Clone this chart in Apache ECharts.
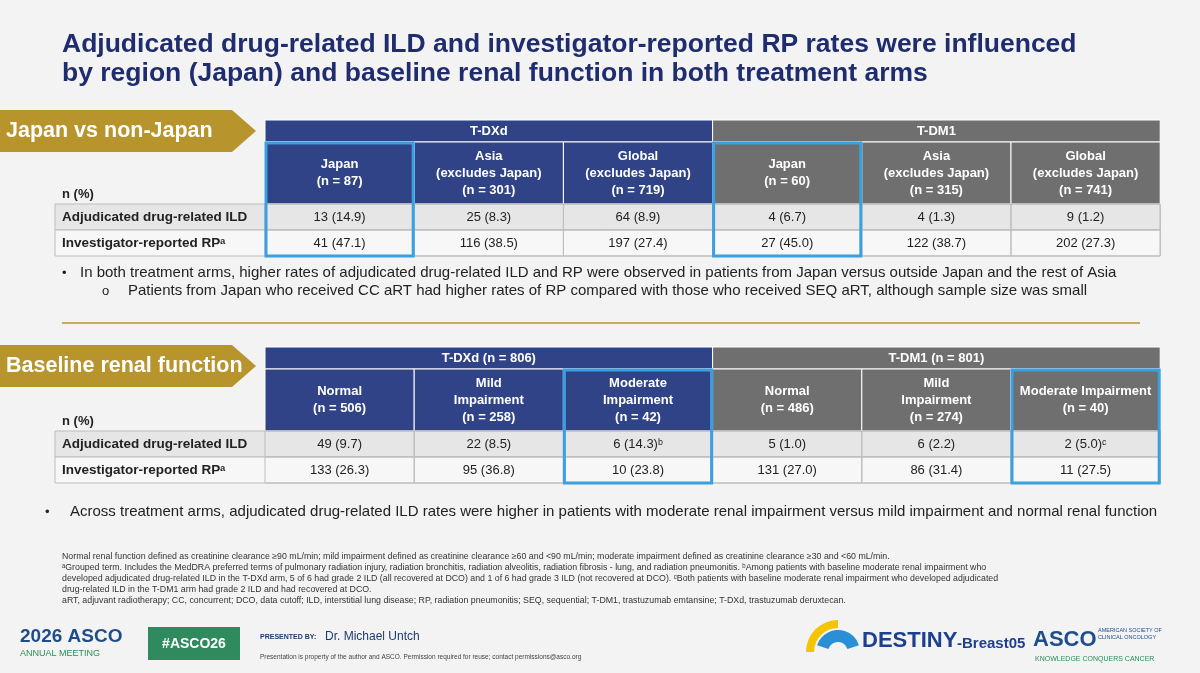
<!DOCTYPE html>
<html>
<head>
<meta charset="utf-8">
<script src="https://cdn.jsdelivr.net/npm/echarts@6/dist/echarts.min.js"></script>
<style>html,body{margin:0;padding:0;background:#f3f3f3}#main{width:1200px;height:673px}</style>
</head>
<body>
<div id="main"></div>
<script>
// table 1: region
const regionCols = ['Japan\n(n = 87)', 'Asia\n(excludes Japan)\n(n = 301)', 'Global\n(excludes Japan)\n(n = 719)',
  'Japan\n(n = 60)', 'Asia\n(excludes Japan)\n(n = 315)', 'Global\n(excludes Japan)\n(n = 741)']
const regionIld = ['13 (14.9)', '25 (8.3)', '64 (8.9)', '4 (6.7)', '4 (1.3)', '9 (1.2)']
const regionRp = ['41 (47.1)', '116 (38.5)', '197 (27.4)', '27 (45.0)', '122 (38.7)', '202 (27.3)']
// table 2: renal
const renalCols = ['Normal\n(n = 506)', 'Mild\nImpairment\n(n = 258)', 'Moderate\nImpairment\n(n = 42)',
  'Normal\n(n = 486)', 'Mild\nImpairment\n(n = 274)', 'Moderate Impairment\n(n = 40)']
const renalIld = ['49 (9.7)', '22 (8.5)', '6 (14.3)ᵇ', '5 (1.0)', '6 (2.2)', '2 (5.0)ᶜ']
const renalRp = ['133 (26.3)', '95 (36.8)', '10 (23.8)', '131 (27.0)', '86 (31.4)', '11 (27.5)']
const rowLabels = ['Adjudicated drug-related ILD', 'Investigator-reported RPᵃ']

const NAVY = '#2f4386', GREY = '#6f6f6f', BLUE = '#3aa0e0', GOLD = '#b8952c', TITLE = '#1f2d6e'
const FONT = 'Arial, "Liberation Sans", sans-serif'
const g = []

function rect(x, y, w, h, fill, stroke, lw) {
  g.push({ type: 'rect', shape: { x, y, width: w, height: h }, style: { fill: fill || 'none', stroke: stroke || null, lineWidth: lw || 0 } })
}
function text(x, y, t, o) {
  o = o || {}
  g.push({ type: 'text', x, y, style: { text: t, fill: o.fill || '#222', font: (o.weight || 'normal') + ' ' + (o.size || 13) + 'px ' + FONT,
    align: o.align || 'left', verticalAlign: o.va || 'middle', lineHeight: o.lh || (o.size || 13) + 3 } })
}

function banner(y, label) {
  g.push({ type: 'polygon', shape: { points: [[0, y], [232, y], [256, y + 21], [232, y + 42], [0, y + 42]] }, style: { fill: GOLD } })
  text(6, y + 21, label, { fill: '#fff', size: 21.5, weight: 'bold' })
}

function table(top, heads, cols, ild, rp, hi) {
  const x0 = 55, lx = 265, cw = 149.2, hh = 22, sh = 62, rh = 26
  rect(lx, top, cw * 3, hh, NAVY, '#fff', 1)
  rect(lx + cw * 3, top, cw * 3, hh, GREY, '#fff', 1)
  text(lx + cw * 1.5, top + hh / 2, heads[0], { fill: '#fff', weight: 'bold', align: 'center' })
  text(lx + cw * 4.5, top + hh / 2, heads[1], { fill: '#fff', weight: 'bold', align: 'center' })
  const sy = top + hh
  cols.forEach((c, i) => {
    rect(lx + cw * i, sy, cw, sh, i < 3 ? NAVY : GREY, '#fff', 1)
    text(lx + cw * i + cw / 2, sy + sh / 2, c, { fill: '#fff', weight: 'bold', align: 'center', size: 13, lh: 17 })
  })
  text(x0 + 7, sy + sh - 10, 'n (%)', { weight: 'bold', size: 13 })
  const ry = sy + sh
  ;[ild, rp].forEach((row, r) => {
    const y = ry + rh * r
    rect(x0, y, lx - x0 + cw * 6, rh, r === 0 ? '#e6e6e6' : '#f7f7f7', '#bdbdbd', 1)
    text(x0 + 7, y + rh / 2, rowLabels[r], { weight: 'bold', size: 13.5 })
    row.forEach((v, i) => {
      rect(lx + cw * i, y, cw, rh, null, '#bdbdbd', 1)
      text(lx + cw * i + cw / 2, y + rh / 2, v, { align: 'center', size: 13 })
    })
  })
  hi.forEach(i => rect(lx + cw * i + 1, sy + 1, cw - 2, sh + rh * 2 - 1, null, BLUE, 3))
}

text(62, 45, 'Adjudicated drug-related ILD and investigator-reported RP rates were influenced', { fill: TITLE, size: 26.5, weight: 'bold' })
text(62, 74, 'by region (Japan) and baseline renal function in both treatment arms', { fill: TITLE, size: 26.5, weight: 'bold' })

banner(110, 'Japan vs non-Japan')
table(120, ['T-DXd', 'T-DM1'], regionCols, regionIld, regionRp, [0, 3])
text(62, 273, '•', { size: 13 })
text(80, 273, 'In both treatment arms, higher rates of adjudicated drug-related ILD and RP were observed in patients from Japan versus outside Japan and the rest of Asia', { size: 15 })
text(102, 291, 'o', { size: 13 })
text(128, 291, 'Patients from Japan who received CC aRT had higher rates of RP compared with those who received SEQ aRT, although sample size was small', { size: 15 })
g.push({ type: 'line', shape: { x1: 62, y1: 323, x2: 1140, y2: 323 }, style: { stroke: GOLD, lineWidth: 1.5 } })

banner(345, 'Baseline renal function')
table(347, ['T-DXd (n = 806)', 'T-DM1 (n = 801)'], renalCols, renalIld, renalRp, [2, 5])
text(45, 512, '•', { size: 13 })
text(70, 512, 'Across treatment arms, adjudicated drug-related ILD rates were higher in patients with moderate renal impairment versus mild impairment and normal renal function', { size: 15 })

const notes = [
  'Normal renal function defined as creatinine clearance ≥90 mL/min; mild impairment defined as creatinine clearance ≥60 and <90 mL/min; moderate impairment defined as creatinine clearance ≥30 and <60 mL/min.',
  'ᵃGrouped term. Includes the MedDRA preferred terms of pulmonary radiation injury, radiation bronchitis, radiation alveolitis, radiation fibrosis - lung, and radiation pneumonitis. ᵇAmong patients with baseline moderate renal impairment who',
  'developed adjudicated drug-related ILD in the T-DXd arm, 5 of 6 had grade 2 ILD (all recovered at DCO) and 1 of 6 had grade 3 ILD (not recovered at DCO). ᶜBoth patients with baseline moderate renal impairment who developed adjudicated',
  'drug-related ILD in the T-DM1 arm had grade 2 ILD and had recovered at DCO.',
  'aRT, adjuvant radiotherapy; CC, concurrent; DCO, data cutoff; ILD, interstitial lung disease; RP, radiation pneumonitis; SEQ, sequential; T-DM1, trastuzumab emtansine; T-DXd, trastuzumab deruxtecan.'
]
notes.forEach((n, i) => text(62, 557 + i * 10.8, n, { size: 8.8, fill: '#333' }))

// footer
text(20, 637, '2026 ASCO', { size: 19, fill: '#1e4d8c', weight: 'bold' })
text(20, 654, 'ANNUAL MEETING', { size: 9, fill: '#2a8c5a' })
rect(148, 627, 92, 33, '#2f8a5e')
text(194, 644, '#ASCO26', { fill: '#fff', size: 14, weight: 'bold', align: 'center' })
text(260, 637, 'PRESENTED BY:', { size: 7, fill: '#1e3a6e', weight: 'bold' })
text(325, 637, 'Dr. Michael Untch', { size: 12, fill: '#1e3a6e' })
text(260, 657, 'Presentation is property of the author and ASCO. Permission required for reuse; contact permissions@asco.org', { size: 6.5, fill: '#444' })
g.push({ type: 'sector', shape: { cx: 838, cy: 652, r: 32, r0: 24, startAngle: Math.PI, endAngle: Math.PI * 1.5 }, style: { fill: '#f2c500' } })
g.push({ type: 'sector', shape: { cx: 838, cy: 652, r: 22, r0: 10, startAngle: Math.PI * 1.1, endAngle: Math.PI * 1.9 }, style: { fill: '#2b8fd6' } })
text(862, 641, 'DESTINY', { size: 22, fill: '#1c3f8f', weight: 'bold' })
text(957, 644, '-Breast05', { size: 15, fill: '#1c3f8f', weight: 'bold' })
text(1033, 640, 'ASCO', { size: 22, fill: '#1e4d8c', weight: 'bold' })
text(1098, 634, 'AMERICAN SOCIETY OF\nCLINICAL ONCOLOGY', { size: 5.5, fill: '#1e4d8c', lh: 7 })
text(1035, 659, 'KNOWLEDGE CONQUERS CANCER', { size: 7, fill: '#2a8c5a' })

const chart = echarts.init(document.getElementById('main'))
chart.setOption({ backgroundColor: '#f3f3f3', graphic: { elements: g } })
</script>
</body>
</html>
